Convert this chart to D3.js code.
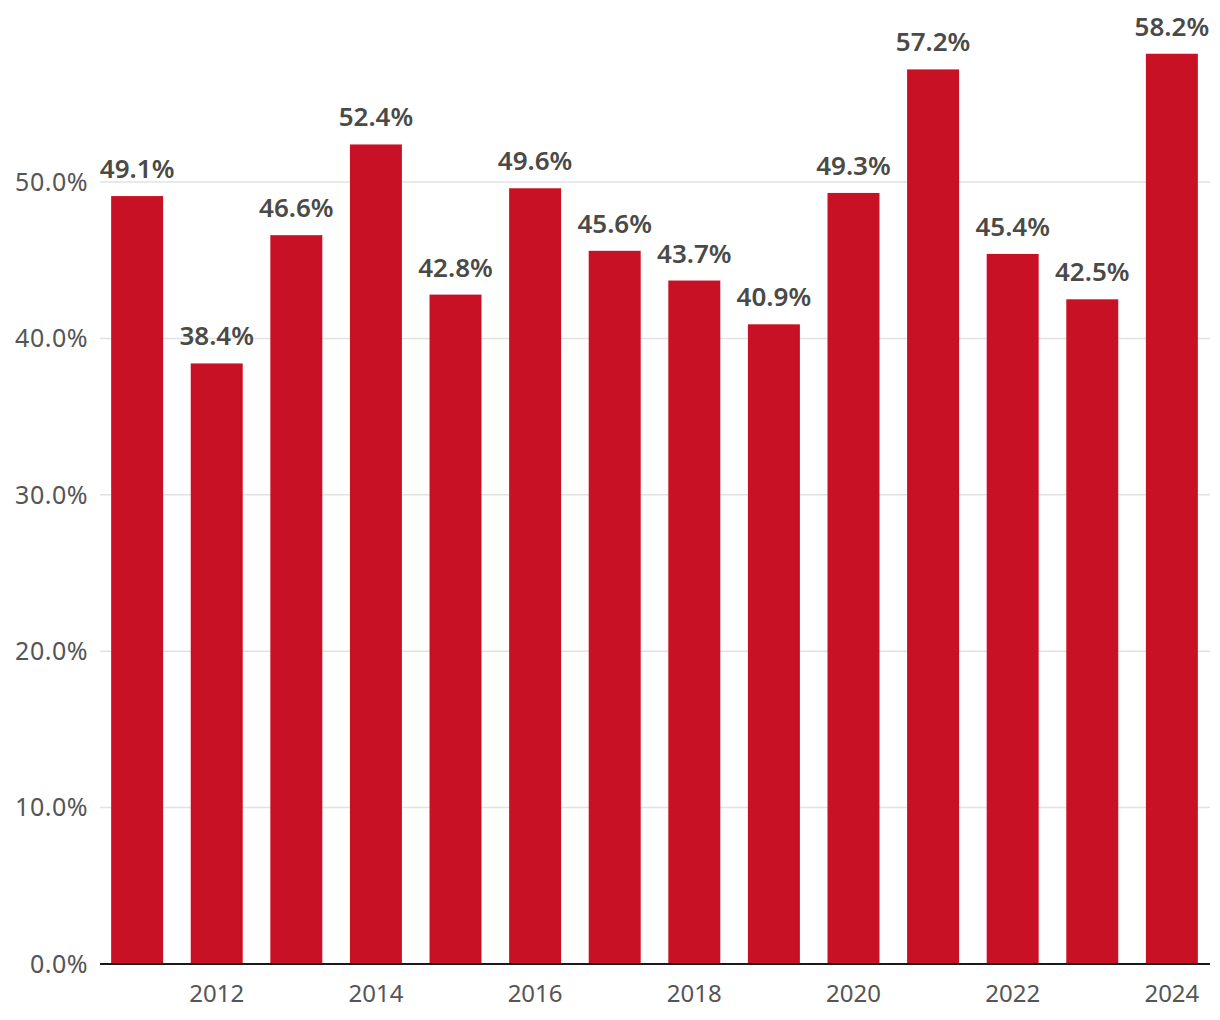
<!DOCTYPE html>
<html><head><meta charset="utf-8">
<script src="https://cdn.jsdelivr.net/npm/d3@7"></script>
<style>
html,body{margin:0;padding:0;background:#fff;}
text{font-family:"Noto Sans",sans-serif;}
</style></head>
<body><svg id="c" width="1220" height="1020"></svg>
<script>
const years = [2011,2012,2013,2014,2015,2016,2017,2018,2019,2020,2021,2022,2023,2024];
const values = [49.1,38.4,46.6,52.4,42.8,49.6,45.6,43.7,40.9,49.3,57.2,45.4,42.5,58.2];
const yTicks = [0,10,20,30,40,50];
const xTickYears = [2012,2014,2016,2018,2020,2022,2024];

const svg = d3.select("#c");
const x = d3.scaleBand().domain(years).range([100,1209]).paddingInner(0.347).paddingOuter(0.14);
const y = d3.scaleLinear().domain([0,60]).range([964, 964-60*15.64]);

svg.append("g").selectAll("line").data(yTicks.filter(d=>d>0)).join("line")
  .attr("x1",100).attr("x2",1210)
  .attr("y1",d=>y(d)).attr("y2",d=>y(d))
  .attr("stroke","#e2e2e2").attr("stroke-width",1.5);

svg.append("g").selectAll("text").data(yTicks).join("text")
  .attr("x",88).attr("y",d=>y(d)).attr("dy","0.35em")
  .attr("text-anchor","end").attr("font-size",25).attr("fill","#555")
  .attr("letter-spacing","0.5px")
  .text(d=>d3.format(".1f")(d)+"%");

svg.append("g").selectAll("rect").data(years).join("rect")
  .attr("x",d=>x(d)).attr("width",x.bandwidth())
  .attr("y",(d,i)=>y(values[i])).attr("height",(d,i)=>y(0)-y(values[i]))
  .attr("fill","#c91126");

svg.append("g").selectAll("text").data(years).join("text")
  .attr("x",d=>x(d)+x.bandwidth()/2).attr("y",(d,i)=>y(values[i])-18)
  .attr("text-anchor","middle").attr("font-size",26).attr("font-weight",600).attr("fill","#4a4a47")
  .text((d,i)=>values[i].toFixed(1)+"%");

svg.append("line").attr("x1",100).attr("x2",1210).attr("y1",y(0)).attr("y2",y(0))
  .attr("stroke","#1a1a1a").attr("stroke-width",2);

svg.append("g").selectAll("text").data(xTickYears).join("text")
  .attr("x",d=>x(d)+x.bandwidth()/2).attr("y",1002)
  .attr("text-anchor","middle").attr("font-size",24).attr("fill","#555")
  .text(d=>d);
</script></body></html>
